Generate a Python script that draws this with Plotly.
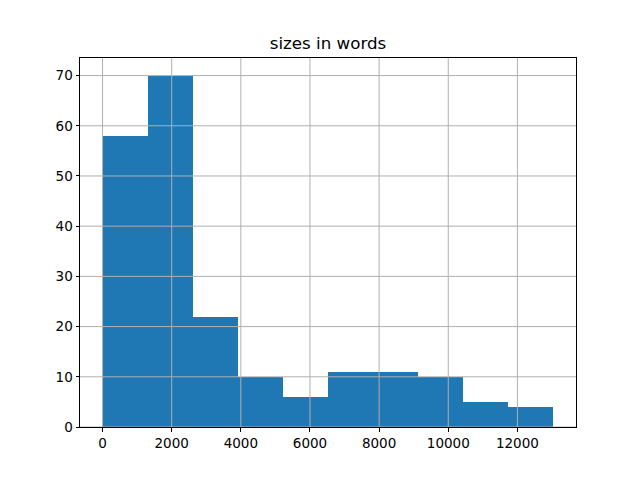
import plotly.graph_objects as go

# Histogram data
counts = [58, 70, 22, 10, 6, 11, 11, 10, 5, 4]
data_min = 0
data_max = 13043
title = "sizes in words"
x_ticks = [0, 2000, 4000, 6000, 8000, 10000, 12000]
y_ticks = [0, 10, 20, 30, 40, 50, 60, 70]

n = len(counts)
w = (data_max - data_min) / n
edges = [data_min + i * w for i in range(n + 1)]
centers = [(edges[i] + edges[i + 1]) / 2 for i in range(n)]

span = data_max - data_min
x_range = [data_min - 0.05 * span, data_max + 0.05 * span]
y_range = [0, max(counts) * 1.05]

fig = go.Figure(go.Bar(
    x=centers, y=counts, width=[w] * n,
    marker=dict(color="#1f77b4", line=dict(width=0)),
    hoverinfo="x+y",
))

axis_common = dict(
    showline=True, mirror=True, linecolor="black", linewidth=1,
    ticks="outside", ticklen=3.5, tickwidth=1, tickcolor="black",
    showgrid=False,
    zeroline=False, layer="above traces",
    tickfont=dict(family="DejaVu Sans", size=13.5, color="black"),
)

# grid lines drawn above the bars, as in matplotlib
shapes = []
for t in x_ticks:
    shapes.append(dict(type="line", xref="x", yref="paper", x0=t, x1=t, y0=0, y1=1,
                       line=dict(color="#b0b0b0", width=1), layer="above"))
for t in y_ticks:
    shapes.append(dict(type="line", xref="paper", yref="y", x0=0, x1=1, y0=t, y1=t,
                       line=dict(color="#b0b0b0", width=1), layer="above"))

W, H = 632, 472  # page body has an 8px offset
fig.update_layout(
    width=W, height=H,
    margin=dict(l=72, r=64, t=50, b=53),
    paper_bgcolor="white", plot_bgcolor="white",
    title=dict(text=title, x=(72 + (W - 64)) / 2 / W, xanchor="center",
               y=(H - 35) / H, yanchor="middle", yref="container",
               font=dict(family="DejaVu Sans", size=16.7, color="black")),
    xaxis=dict(range=x_range, tickvals=x_ticks, ticktext=[str(t) for t in x_ticks], **axis_common),
    yaxis=dict(range=y_range, tickvals=y_ticks, ticktext=[str(t) for t in y_ticks], **axis_common),
    shapes=shapes,
    showlegend=False,
    bargap=0,
)

fig.write_html("out.html")
